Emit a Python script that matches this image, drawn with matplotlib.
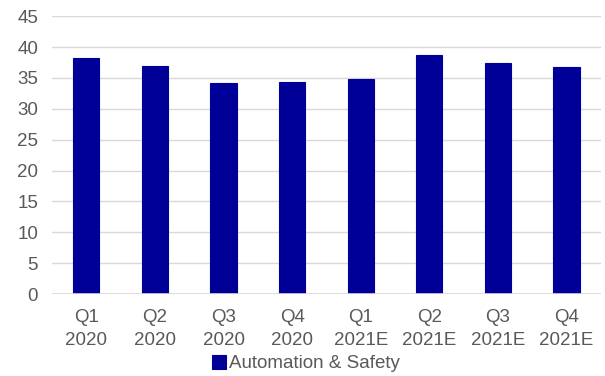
import matplotlib
matplotlib.use("Agg")
import matplotlib.pyplot as plt

# --- data ---
quarters = ["Q1\n2020", "Q2\n2020", "Q3\n2020", "Q4\n2020",
            "Q1\n2021E", "Q2\n2021E", "Q3\n2021E", "Q4\n2021E"]
values = [38.2, 36.9, 34.1, 34.3, 34.8, 38.7, 37.4, 36.8]
series_name = "Automation & Safety"

plt.rcParams['font.family'] = ['Liberation Sans', 'DejaVu Sans']

fig = plt.figure(figsize=(6.05, 3.76), dpi=100)
ax = fig.add_axes([0.086, 0.218, 0.907, 0.739])

x = range(len(quarters))
ax.bar(x, values, width=0.38, color="#000099", edgecolor="#000099",
       linewidth=0.8, label=series_name, zorder=3)

ax.set_xlim(-0.5, len(quarters) - 0.5)
ax.set_ylim(0, 45)
ax.set_yticks(range(0, 46, 5))
ax.grid(axis='y', color="#d9d9d9", linewidth=1, zorder=0)
ax.axhline(0, color="#d9d9d9", linewidth=1.2, zorder=4)

for s in ax.spines.values():
    s.set_visible(False)

fs = 13.5
ax.set_xticks(list(x))
ax.set_xticklabels(quarters, fontsize=fs, color="#595959", linespacing=1.45)
ax.tick_params(axis='y', labelsize=fs, labelcolor="#595959", length=0, pad=10)
ax.tick_params(axis='x', length=0, pad=11)

fig.legend(loc='lower center', bbox_to_anchor=(0.505, -0.035), frameon=False,
           fontsize=fs, labelcolor="#595959", handlelength=0.75,
           handleheight=0.75, handletextpad=0.15)

fig.savefig("out.png", dpi=100)
